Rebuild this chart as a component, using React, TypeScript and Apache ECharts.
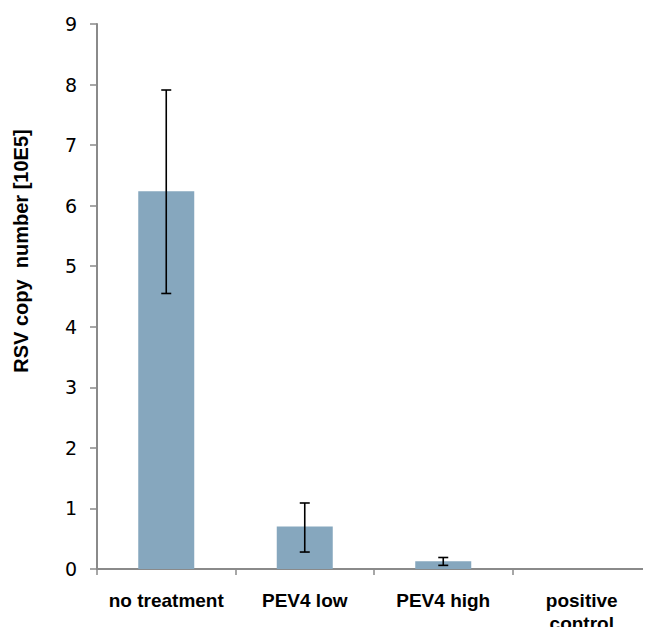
import React, { useEffect, useRef } from "react";
import * as echarts from "echarts";

const categories = ["no treatment", "PEV4 low", "PEV4 high", "positive\ncontrol"];
const values = [6.24, 0.7, 0.13, 0];
const errLow = [4.55, 0.28, 0.06, 0];
const errHigh = [7.91, 1.09, 0.19, 0];
const yTicks = [0, 1, 2, 3, 4, 5, 6, 7, 8, 9];
const yTitle = "RSV copy  number [10E5]";

export default function App() {
  const ref = useRef<HTMLDivElement>(null);
  useEffect(() => {
    if (!ref.current) return;
    const chart = echarts.init(ref.current, null, { renderer: "svg" });
    const errData = categories
      .map((_, i) => [i, errLow[i], errHigh[i]])
      .filter((d) => d[2] > 0);
    chart.setOption({
      animation: false,
      backgroundColor: "#ffffff",
      grid: { left: 97, right: -10, top: 24, bottom: 64, containLabel: false },
      graphic: [
        {
          type: "text",
          x: 21,
          y: 251,
          rotation: Math.PI / 2,
          style: {
            text: yTitle,
            fill: "#000",
            fontFamily: "Liberation Sans",
            fontWeight: "bold",
            fontSize: 20,
            align: "center",
            verticalAlign: "middle",
          },
        },
      ],
      xAxis: {
        type: "category",
        data: categories,
        axisLine: { show: true, lineStyle: { color: "#8a8a8a", width: 2 } },
        axisTick: { show: true, length: 6, alignWithLabel: false, lineStyle: { color: "#8a8a8a", width: 1.5 } },
        axisLabel: {
          interval: 0,
          margin: 20,
          color: "#000",
          fontFamily: "Liberation Sans",
          fontWeight: "bold",
          fontSize: 19,
          lineHeight: 23,
        },
      },
      yAxis: {
        type: "value",
        min: yTicks[0],
        max: yTicks[yTicks.length - 1],
        interval: 1,
        splitLine: { show: false },
        axisLine: { show: true, lineStyle: { color: "#8a8a8a", width: 2 } },
        axisTick: { show: true, length: 7, lineStyle: { color: "#8a8a8a", width: 1.5 } },
        axisLabel: {
          margin: 20,
          color: "#000",
          fontFamily: "DejaVu Sans",
          fontSize: 19,
        },
      },
      series: [
        {
          type: "bar",
          data: values,
          barWidth: 56,
          itemStyle: { color: "#86a7be" },
        },
        {
          type: "custom",
          data: errData,
          z: 10,
          renderItem: (params: any, api: any) => {
            const x = api.value(0);
            const lo = api.coord([x, api.value(1)]);
            const hi = api.coord([x, api.value(2)]);
            const hw = 5;
            const style = { stroke: "#000", lineWidth: 1.6 };
            return {
              type: "group",
              children: [
                { type: "line", shape: { x1: lo[0], y1: lo[1], x2: hi[0], y2: hi[1] }, style },
                { type: "line", shape: { x1: hi[0] - hw, y1: hi[1], x2: hi[0] + hw, y2: hi[1] }, style },
                { type: "line", shape: { x1: lo[0] - hw, y1: lo[1], x2: lo[0] + hw, y2: lo[1] }, style },
              ],
            };
          },
        },
      ],
    });
    return () => chart.dispose();
  }, []);
  return <div ref={ref} style={{ width: 651, height: 635, margin: -8 }} />;
}
